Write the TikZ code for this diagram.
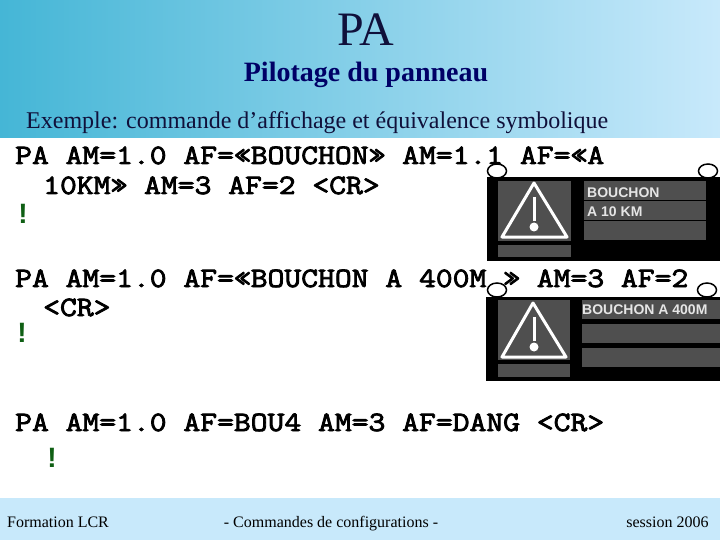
\documentclass[tikz,border=0pt]{standalone}
\usepackage{fontspec}
\setmainfont{Liberation Serif}
\setsansfont{Liberation Sans}
\newfontfamily\cmdfont[FakeStretch=1.167,FakeBold=3]{Latin Modern Mono}
\usepackage{xcolor}
\definecolor{skyleft}{HTML}{45B6D6}
\definecolor{skyright}{HTML}{C8E9FB}
\definecolor{panelgray}{HTML}{4F4F4F}
\definecolor{inknavy}{HTML}{10103A}
\definecolor{signgreen}{HTML}{0F5F14}

\begin{document}
\begin{tikzpicture}[x=1pt,y=-1pt,
		title/.style={anchor=base,text=inknavy,inner sep=0pt,font=\rmfamily\fontsize{48}{48}\selectfont},
		subtitle/.style={anchor=base,text=blue!40!black,inner sep=0pt,font=\rmfamily\bfseries\fontsize{28}{28}\selectfont},
		intro/.style={anchor=base west,text=inknavy,inner sep=0pt,font=\rmfamily\fontsize{24}{24}\selectfont},
		cmdline/.style={anchor=base west,text=black,inner sep=0pt,font=\cmdfont\fontsize{28}{28}\selectfont},
		bang/.style={anchor=base,text=signgreen,inner sep=0pt,font=\sffamily\bfseries\fontsize{28}{28}\selectfont},
		foot/.style={anchor=base,text=black,inner sep=0pt,font=\rmfamily\fontsize{16}{16}\selectfont},
		paneltext/.style={anchor=base west,text=white!90!black,inner sep=0pt,font=\sffamily\bfseries\fontsize{14}{14}\selectfont},
		panelbox/.style={fill=panelgray},
		warnline/.style={draw=white,line width=3pt,line join=round},
		hook/.style={draw=black,fill=white,line width=1.5pt}]
		
		\useasboundingbox (0,0) rectangle (720,540);
		
		% bands
		\fill[left color=skyleft,right color=skyright] (0,0) rectangle (720,138);
		\fill[skyright] (0,498) rectangle (720,540);
		
		% first panel
		\fill[black] (487,177) rectangle (720,261);
		\fill[panelbox] (498,181) rectangle (571,241);
		\fill[panelbox] (498,245) rectangle (571,257);
		\fill[panelbox] (584,181) rectangle (706,200);
		\fill[panelbox] (584,201) rectangle (706,220);
		\fill[panelbox] (584,221) rectangle (706,240);
		\draw[warnline] (534,183) -- (567,237) -- (502,237) -- cycle;
		\draw[warnline] (534,197) -- (534,221);
		\fill[white] (534,227) circle (4.5);
		
		% second panel
		\fill[black] (486,297) rectangle (720,381);
		\fill[panelbox] (498,300) rectangle (570,360);
		\fill[panelbox] (498,364) rectangle (570,377);
		\fill[panelbox] (582,300) rectangle (720,319);
		\fill[panelbox] (582,324) rectangle (720,343);
		\fill[panelbox] (582,348) rectangle (720,367);
		\draw[warnline] (533,303) -- (566,357) -- (502,357) -- cycle;
		\draw[warnline] (534,317) -- (534,341);
		\fill[white] (534,347) circle (4.5);
		
		\node[title] (pa) at (366,46) {PA};
		\node[subtitle] (pilotage) at (366,82) {Pilotage du panneau};
		\node[intro] (exemple) at (26,129) {Exemple: commande d’affichage et équivalence symbolique};
		
		\node[cmdline] (cmda) at (15,164) {PA AM=1.0 AF=«BOUCHON» AM=1.1 AF=«A};
		\node[cmdline] (cmdb) at (43,194) {10KM» AM=3 AF=2 <CR>};
		\node[bang] (banga) at (23,224) {!};
		\node[paneltext] (texta) at (587,198) {BOUCHON};
		\node[paneltext] (textb) at (587,217) {A 10 KM};
		
		\node[cmdline] (cmdc) at (15,287) {PA AM=1.0 AF=«BOUCHON A 400M » AM=3 AF=2};
		\node[cmdline] (cmdd) at (43,316) {<CR>};
		\node[bang] (bangb) at (22,342) {!};
		\node[paneltext] (textc) at (582,314) {BOUCHON A 400M};
		
		\node[cmdline] (cmde) at (15,431) {PA AM=1.0 AF=BOU4 AM=3 AF=DANG <CR>};
		\node[bang] (bangc) at (52,467) {!};
		
		% hooks of the panels
		\draw[hook] (497,171) ellipse (9.5 and 7);
		\draw[hook] (708,171) ellipse (9.5 and 7);
		\draw[hook] (497,290) ellipse (9.5 and 7);
		\draw[hook] (707,290) ellipse (9.5 and 7);
		
		\node[foot] (forma) at (58,527) {Formation LCR};
		\node[foot] (cmds) at (331,527) {- Commandes de configurations -};
		\node[foot] (sess) at (667.5,527) {session 2006};
\end{tikzpicture}
\end{document}
